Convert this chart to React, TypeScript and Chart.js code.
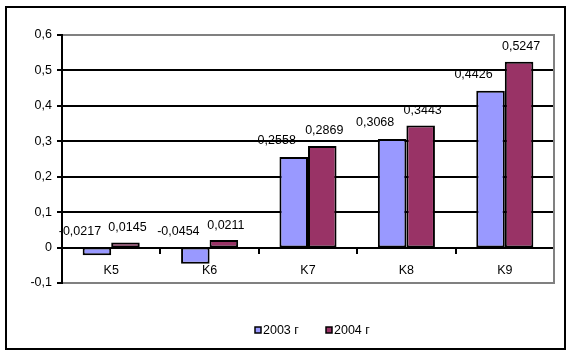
import { useEffect, useRef } from "react";
import { Chart, registerables } from "chart.js";

Chart.register(...registerables);

const categories = ["K5", "K6", "K7", "K8", "K9"];
const values2003 = [-0.0217, -0.0454, 0.2558, 0.3068, 0.4426];
const values2004 = [0.0145, 0.0211, 0.2869, 0.3443, 0.5247];
const seriesNames = ["2003 г", "2004 г"];
const seriesColors = ["#9999FF", "#993366"];
const yMin = -0.1;
const yMax = 0.6;
const yStep = 0.1;

const FONT = "'Liberation Sans', Arial, sans-serif";
const FS = 12.5;
const fmt = (v: number) => String(v).replace(".", ",");

const decorPlugin = {
  id: "decor",
  afterDatasetsDraw(chart: any) {
    const ctx = chart.ctx;
    const area = chart.chartArea;
    const yScale = chart.scales.y;
    const zeroY = yScale.getPixelForValue(0);
    ctx.save();
    ctx.strokeStyle = "#808080";
    ctx.lineWidth = 2;
    ctx.beginPath();
    ctx.moveTo(area.right, area.top - 1);
    ctx.lineTo(area.right, area.bottom + 1);
    ctx.stroke();
    ctx.fillStyle = "#000";
    ctx.font = `${FS}px ${FONT}`;
    ctx.textAlign = "center";
    ctx.textBaseline = "middle";
    const offs = [
      { dx: -17, dy: -16 },
      { dx: 2, dy: -15 },
    ];
    chart.data.datasets.forEach((ds: any, di: number) => {
      const meta = chart.getDatasetMeta(di);
      meta.data.forEach((el: any, i: number) => {
        const v = ds.data[i];
        const baseY = v >= 0 ? el.y : zeroY;
        ctx.fillText(fmt(v), el.x + offs[di].dx, baseY + offs[di].dy);
      });
    });
    ctx.restore();
  },
  afterDraw(chart: any) {
    const ctx = chart.ctx;
    ctx.save();
    ctx.strokeStyle = "#000";
    ctx.lineWidth = 2;
    ctx.strokeRect(6, 7, 559, 342);
    const xs = [255, 326];
    ctx.font = `${FS}px ${FONT}`;
    ctx.textAlign = "left";
    ctx.textBaseline = "middle";
    seriesNames.forEach((name, i) => {
      const x = xs[i];
      ctx.fillStyle = seriesColors[i];
      ctx.fillRect(x, 327, 6, 6);
      ctx.strokeStyle = "#000";
      ctx.lineWidth = 1.5;
      ctx.strokeRect(x, 327, 6, 6);
      ctx.fillStyle = "#000";
      ctx.fillText(name, x + 8, 330.5);
    });
    ctx.restore();
  },
};

export default function App() {
  const ref = useRef<HTMLCanvasElement>(null);
  useEffect(() => {
    if (!ref.current) return;
    const chart = new Chart(ref.current, {
      type: "bar",
      data: {
        labels: categories,
        datasets: [
          {
            label: seriesNames[0],
            data: values2003,
            backgroundColor: seriesColors[0],
            borderColor: "#000",
            borderWidth: 2,
            borderSkipped: false,
          },
          {
            label: seriesNames[1],
            data: values2004,
            backgroundColor: seriesColors[1],
            borderColor: "#000",
            borderWidth: 2,
            borderSkipped: false,
          },
        ],
      },
      options: {
        responsive: false,
        devicePixelRatio: 1,
        animation: false,
        categoryPercentage: 0.58,
        barPercentage: 1,
        layout: { padding: { left: 0, top: 35, right: 16, bottom: 71 } },
        plugins: {
          legend: { display: false },
          tooltip: { enabled: false },
        },
        scales: {
          x: {
            position: { y: 0 },
            grid: {
              display: true,
              drawOnChartArea: false,
              drawTicks: true,
              tickLength: 5,
              color: "#000",
              lineWidth: 2,
              offset: true,
            },
            border: { display: true, color: "#000", width: 2 },
            ticks: {
              color: "#000",
              font: { family: FONT, size: FS },
              padding: 10,
              maxRotation: 0,
            },
          },
          y: {
            min: yMin,
            max: yMax,
            afterFit: (s: any) => {
              s.width = 62;
            },
            ticks: {
              stepSize: yStep,
              color: "#000",
              font: { family: FONT, size: FS },
              padding: 5,
              callback: (v: any) => fmt(Math.round(Number(v) * 10) / 10),
            },
            grid: {
              color: (c: any) => {
                const v = c.tick ? c.tick.value : 0;
                return Math.abs(v - yMax) < 1e-6 || Math.abs(v - yMin) < 1e-6 ? "#808080" : "#000";
              },
              tickColor: "#000",
              lineWidth: 2,
              tickLength: 5,
            },
            border: { display: true, color: "#000", width: 2 },
          },
        },
      },
      plugins: [decorPlugin],
    });
    return () => chart.destroy();
  }, []);
  return (
    <div style={{ position: "absolute", left: 0, top: 0, width: 570, height: 354, background: "#fff" }}>
      <canvas ref={ref} width={570} height={354} style={{ display: "block" }} />
    </div>
  );
}
